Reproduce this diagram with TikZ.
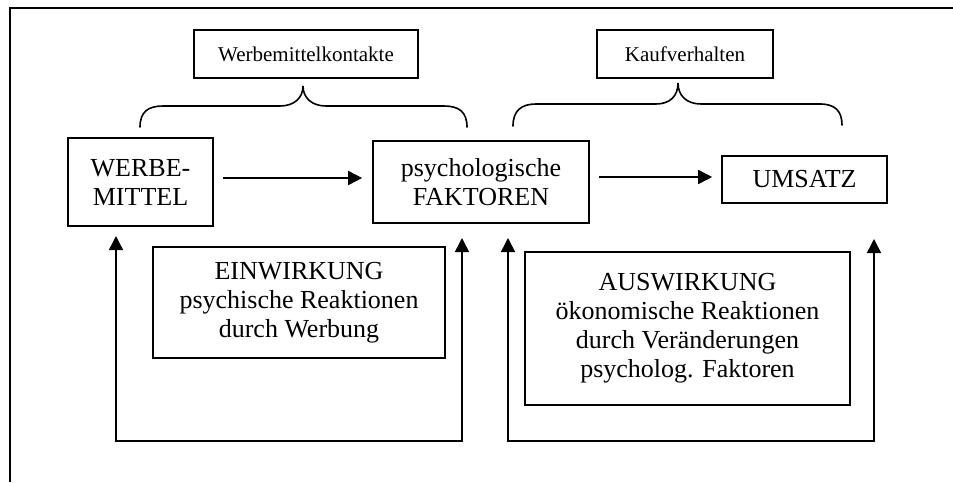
\documentclass[tikz,border=0pt]{standalone}
\usepackage{fontspec}
\setmainfont{Liberation Serif}
\usetikzlibrary{arrows.meta}
\begin{document}
\begin{tikzpicture}[x=1pt,y=-1pt,
  box/.style={draw,line width=1.6pt,inner sep=0pt,align=center,
    font=\fontsize{26}{29}\selectfont},
  smallbox/.style={box,font=\fontsize{21}{24}\selectfont},
  tip/.tip={Triangle[length=14pt,width=14pt]},
  flow/.style={line width=1.6pt,-tip},
  loop/.style={line width=1.6pt,tip-tip},
  brace/.style={line width=1.6pt,line cap=round}]
\useasboundingbox (0,0) rectangle (953,482);
% open frame: top and left edges only
\draw[line width=2pt] (953,8) -- (10,8) -- (10,482);

% upper labels
\node[smallbox,minimum width=224pt,minimum height=48pt] (wmk) at (306,54) {Werbemittelkontakte};
\node[smallbox,minimum width=176pt,minimum height=48pt] (kauf) at (685,54) {Kaufverhalten};

% main chain
\node[box,minimum width=145pt,minimum height=88pt] (wm) at (140.5,182) {WERBE-\\MITTEL};
\node[box,minimum width=216pt,minimum height=82pt] (psy) at (481,182) {psychologische\\FAKTOREN};
\node[box,minimum width=165pt,minimum height=47pt] (ums) at (804.5,179.5) {UMSATZ};

% explanation boxes
\node[box,minimum width=292pt,minimum height=111pt] (ein) at (299,302.5)
  {EINWIRKUNG\\psychische Reaktionen\\durch Werbung};
\node[box,minimum width=325pt,minimum height=153pt] (aus) at (687.5,328.5)
  {AUSWIRKUNG\\ökonomische Reaktionen\\durch Veränderungen\\psycholog. Faktoren};

% braces
\draw[brace] (140,127) .. controls (140,112) and (148,106) .. (163,106)
  -- (280,106) .. controls (294,106) and (303,98) .. (303,86)
  .. controls (303,98) and (312,106) .. (326,106)
  -- (444,106) .. controls (459,106) and (467,112) .. (467,127);
\draw[brace] (513,126) .. controls (513,111) and (521,104) .. (536,104)
  -- (656,104) .. controls (670,104) and (678,96) .. (678,83)
  .. controls (678,96) and (687,104) .. (701,104)
  -- (820,104) .. controls (835,104) and (842,111) .. (842,125);

% horizontal flow
\draw[flow,shorten <=9pt,shorten >=10pt] (wm.east |- 0,178) -- (psy.west |- 0,178);
\draw[flow,shorten <=9pt,shorten >=9pt] (psy.east |- 0,177) -- (ums.west |- 0,177);

% feedback loops
\coordinate (la) at (116,236);
\coordinate (lb) at (462,238);
\coordinate (ra) at (508,238);
\coordinate (rb) at (874,239);
\draw[loop] (la) -- (la |- 0,441) -- (lb |- 0,441) -- (lb);
\draw[loop] (ra) -- (ra |- 0,441) -- (rb |- 0,441) -- (rb);
\end{tikzpicture}
\end{document}
